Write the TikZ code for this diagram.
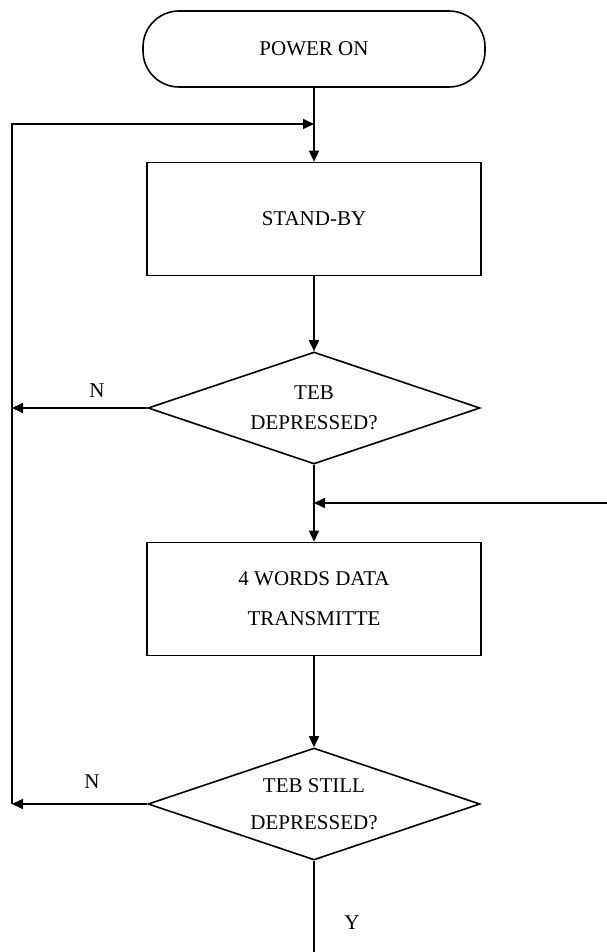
\documentclass[tikz,border=0pt]{standalone}
\usepackage{fontspec}
\setmainfont{Liberation Serif}
\usetikzlibrary{shapes.geometric,arrows.meta}
\begin{document}
\begin{tikzpicture}[x=1pt,y=-1pt,
  font=\fontsize{21}{25}\selectfont,
  every path/.style={line width=1.6pt},
  arr/.style={-{Triangle[length=11pt,width=10pt]}},
  termbox/.style={draw,rectangle,rounded corners=36pt,minimum width=342pt,minimum height=76pt,inner sep=0pt},
  procbox/.style={draw,rectangle,minimum width=334pt,minimum height=113pt,inner sep=0pt,align=center},
  decbox/.style={draw,diamond,aspect=3,minimum width=332pt,minimum height=112pt,inner sep=0pt,align=center},
  lbl/.style={inner sep=0pt}]
\useasboundingbox (0,0) rectangle (607,952);
\node[termbox] (power) at (314,49) {POWER ON};
\node[procbox] (standby) at (314,219) {STAND-BY};
\node[decbox] (d1) at (314,408) {TEB\\[5pt]DEPRESSED?};
\node[procbox] (box2) at (314,599) {4 WORDS DATA\\[15pt]TRANSMITTE};
\node[decbox] (d2) at (314,804) {TEB STILL\\[12pt]DEPRESSED?};
\coordinate (j1) at (314,124);
\coordinate (cl1) at (12,124);
\coordinate (clm) at (12,408);
\coordinate (cl2) at (12,804);
\coordinate (j2) at (314,503);
\coordinate (r) at (607,503);
\coordinate (bot) at (314,952);
\draw[arr] (power.south) -- (standby.north);
\draw[arr] (cl2) -- (cl1) -- (j1);
\draw[arr] (standby.south) -- (d1.north);
\draw[arr] (d1.west) -- (clm);
\draw[arr] (d1.south) -- (box2.north);
\draw[arr] (r) -- (j2);
\draw[arr] (box2.south) -- (d2.north);
\draw[arr] (d2.west) -- (cl2);
\draw (d2.south) -- (bot);
\node[lbl] (n1) at (97,391) {N};
\node[lbl] (n2) at (92,782) {N};
\node[lbl] (y1) at (352,923) {Y};
\end{tikzpicture}
\end{document}
